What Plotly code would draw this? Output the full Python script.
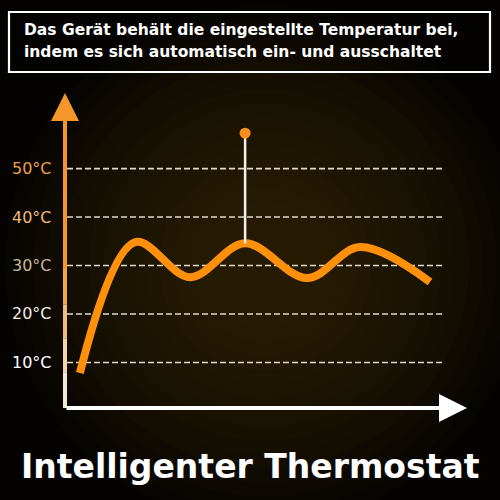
import plotly.graph_objects as go

# ---- data ----
curve_x = [3.7, 17.4, 31.1, 44.8, 60.2, 73.4, 90.8]
curve_t = [7.8, 34.8, 27.6, 34.6, 27.4, 33.8, 26.6]
grid_temps = [10, 20, 30, 40, 50]
tick_labels = ["10°C", "20°C", "30°C", "40°C", "50°C"]
tick_colors = ["#ffffff", "#f3ebe2", "#c9b49a", "#f2b877", "#f0a047"]
marker_x = 44.8
marker_top = 57.3
marker_base = 34.6
header_lines = ["Das Gerät behält die eingestellte Temperatur bei,",
                "indem es sich automatisch ein- und ausschaltet"]
footer = "Intelligenter Thermostat"

X_RANGE = [0, 100]
Y_RANGE = [0.6, 65.6]
XD = [65 / 500, 467 / 500]
YD = [92 / 500, 407 / 500]


def ypaper(v):
    return YD[0] + (v - Y_RANGE[0]) / (Y_RANGE[1] - Y_RANGE[0]) * (YD[1] - YD[0])


fig = go.Figure()

# curve
fig.add_trace(go.Scatter(x=curve_x, y=curve_t, mode="lines",
                         line=dict(color="#ff900c", width=8, shape="spline", smoothing=1.0),
                         hoverinfo="skip"))
# marker stem
fig.add_trace(go.Scatter(x=[marker_x, marker_x], y=[marker_base, marker_top], mode="lines",
                         line=dict(color="#f4f0ea", width=2.5), hoverinfo="skip"))
fig.add_trace(go.Scatter(x=[marker_x], y=[marker_top], mode="markers",
                         marker=dict(color="#f7901e", size=11), hoverinfo="skip"))

shapes = []
# radial glow background
n = 16
for i in range(n):
    r = 0.52 - i * 0.028
    shapes.append(dict(type="circle", xref="paper", yref="paper", layer="below",
                       x0=0.53 - r, x1=0.53 + r, y0=0.47 - r, y1=0.47 + r,
                       fillcolor="rgba(75,52,12,0.06)", line=dict(width=0)))
# dashed gridlines
for t in grid_temps:
    shapes.append(dict(type="line", xref="x", yref="y", x0=0.5, x1=94, y0=t, y1=t,
                       line=dict(color="rgba(245,240,230,0.9)", width=1.6, dash="6px,3px"), layer="below"))
# header box
shapes.append(dict(type="rect", xref="paper", yref="paper", x0=9 / 500, x1=490 / 500,
                   y0=1 - 72 / 500, y1=1 - 12 / 500, line=dict(color="white", width=2.2)))
# lower part of vertical axis (orange fading to white)
seg_cols = ["#f3e6d6", "#f4d3ad", "#f5bb78", "#f5a748"]
seg_edges = [Y_RANGE[0], 8, 15, 22, 29.5]
for i, c in enumerate(seg_cols):
    shapes.append(dict(type="line", xref="paper", yref="paper", x0=XD[0], x1=XD[0],
                       y0=ypaper(seg_edges[i]), y1=ypaper(seg_edges[i + 1]),
                       line=dict(color=c, width=4)))

annotations = []
# y axis arrow (orange)
annotations.append(dict(x=0, y=65.6, ax=0, ay=29, xref="x", yref="y", axref="x", ayref="y",
                        showarrow=True, arrowhead=2, arrowsize=1.4, arrowwidth=4,
                        arrowcolor="#f5962a", text=""))
# x axis arrow (white)
annotations.append(dict(x=100, y=Y_RANGE[0], ax=0, ay=Y_RANGE[0], xref="x", yref="y",
                        axref="x", ayref="y", showarrow=True, arrowhead=2, arrowsize=1.4,
                        arrowwidth=4, arrowcolor="white", text=""))
# tick labels
for t, lab, c in zip(grid_temps, tick_labels, tick_colors):
    annotations.append(dict(x=54 / 500, y=t, xref="paper", yref="y", text=lab,
                            showarrow=False, xanchor="right", yanchor="middle",
                            font=dict(family="DejaVu Sans", size=16, color=c)))
# header text
for i, line in enumerate(header_lines):
    annotations.append(dict(x=22 / 500, y=1 - (30 + i * 22) / 500, xref="paper", yref="paper",
                            text=line, showarrow=False, xanchor="left", yanchor="middle",
                            font=dict(family="DejaVu Sans", size=15.5, color="white", weight="bold")))
# footer
annotations.append(dict(x=0.5, y=1 - 466 / 500, xref="paper", yref="paper", text=footer,
                        showarrow=False, xanchor="center", yanchor="middle",
                        font=dict(family="DejaVu Sans", size=33, color="white", weight="bold")))

fig.update_layout(
    width=500, height=500, margin=dict(l=0, r=0, t=0, b=0),
    paper_bgcolor="#040302", plot_bgcolor="rgba(0,0,0,0)",
    showlegend=False,
    xaxis=dict(range=X_RANGE, domain=XD, visible=False, fixedrange=True),
    yaxis=dict(range=Y_RANGE, domain=YD, visible=False, fixedrange=True),
    shapes=shapes, annotations=annotations,
)

fig.write_html("out.html", config={"displayModeBar": False},
               post_script="document.body.style.margin='0';document.body.style.overflow='hidden';document.body.style.background='#040302';")
